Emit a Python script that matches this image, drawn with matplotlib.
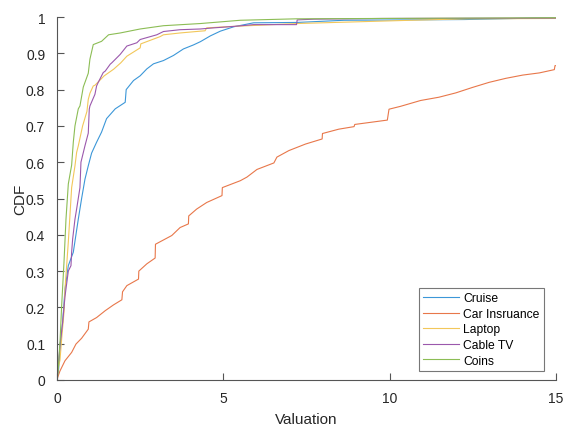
import matplotlib
matplotlib.use("Agg")
import matplotlib.pyplot as plt

plt.rcParams['font.family'] = ['Liberation Sans', 'DejaVu Sans']

labels = ["Cruise", "Car Insruance", "Laptop", "Cable TV", "Coins"]

cruise_x = [0, 0.05, 0.09, 0.17, 0.24, 0.34, 0.49, 0.64, 0.74, 0.84, 0.94, 1.04, 1.19, 1.34, 1.49, 1.75,
            2.0, 2.05, 2.08, 2.3, 2.5, 2.7, 2.9, 3.2, 3.5, 3.8, 4.1, 4.31, 4.61, 4.91, 5.31, 5.91, 7.22,
            8.63, 12.24, 14.34, 15]
cruise_y = [0, 0.03, 0.094, 0.159, 0.25, 0.315, 0.352, 0.443, 0.5, 0.553, 0.59, 0.625, 0.655, 0.683, 0.72,
            0.747, 0.762, 0.765, 0.80, 0.825, 0.838, 0.857, 0.871, 0.88, 0.894, 0.912, 0.923, 0.932, 0.948,
            0.961, 0.973, 0.984, 0.985, 0.991, 0.993, 0.997, 0.997]

car_x = [0, 0.03, 0.09, 0.24, 0.44, 0.57, 0.74, 0.94, 0.96, 1.19, 1.45, 1.70, 1.95, 1.97, 2.1, 2.45, 2.46,
         2.7, 2.95, 2.96, 3.45, 3.70, 3.95, 3.96, 4.2, 4.5, 4.96, 4.97, 5.51, 5.71, 6.01, 6.52, 6.61, 6.97,
         7.47, 7.97, 7.98, 8.47, 8.93, 8.95, 9.93, 9.98, 10.33, 10.93, 11.48, 11.99, 12.49, 12.99, 13.49,
         14.0, 14.5, 14.95, 14.97, 15]
car_y = [0, 0.01, 0.025, 0.053, 0.076, 0.099, 0.115, 0.14, 0.16, 0.172, 0.191, 0.207, 0.221, 0.243, 0.26,
         0.278, 0.30, 0.32, 0.336, 0.374, 0.398, 0.42, 0.43, 0.452, 0.471, 0.489, 0.508, 0.53, 0.549, 0.559,
         0.58, 0.598, 0.614, 0.632, 0.65, 0.664, 0.679, 0.691, 0.698, 0.704, 0.716, 0.746, 0.754, 0.770,
         0.779, 0.791, 0.806, 0.820, 0.831, 0.840, 0.846, 0.855, 0.866, 0.866]

laptop_x = [0, 0.03, 0.09, 0.14, 0.21, 0.24, 0.34, 0.44, 0.54, 0.59, 0.64, 0.77, 0.90, 0.94, 0.99, 1.09,
            1.14, 1.42, 1.70, 1.92, 2.1, 2.5, 2.52, 3.1, 3.2, 3.7, 4.31, 4.45, 4.5, 5.26, 7.22, 10.63,
            12.34, 15]
laptop_y = [0, 0.03, 0.055, 0.113, 0.187, 0.25, 0.38, 0.53, 0.59, 0.627, 0.645, 0.70, 0.74, 0.773, 0.79,
            0.81, 0.812, 0.838, 0.856, 0.874, 0.892, 0.915, 0.926, 0.946, 0.951, 0.956, 0.961, 0.962,
            0.970, 0.974, 0.982, 0.991, 0.995, 0.996]

cable_x = [0, 0.03, 0.09, 0.17, 0.24, 0.34, 0.42, 0.44, 0.47, 0.54, 0.59, 0.69, 0.72, 0.84, 0.94, 0.97,
           0.99, 1.14, 1.19, 1.24, 1.39, 1.45, 1.6, 1.65, 1.9, 2.1, 2.4, 2.5, 3.0, 3.2, 3.7, 4.31, 4.7,
           5.31, 5.91, 7.2, 7.22, 7.72, 9.78, 15]
cable_y = [0, 0.03, 0.094, 0.159, 0.23, 0.30, 0.315, 0.352, 0.388, 0.443, 0.471, 0.53, 0.6, 0.645, 0.68,
           0.746, 0.755, 0.787, 0.81, 0.82, 0.847, 0.851, 0.87, 0.874, 0.897, 0.92, 0.929, 0.938, 0.951,
           0.96, 0.965, 0.967, 0.97, 0.974, 0.979, 0.979, 0.992, 0.994, 0.996, 0.997]

coins_x = [0, 0.03, 0.09, 0.14, 0.21, 0.27, 0.34, 0.44, 0.49, 0.54, 0.64, 0.69, 0.79, 0.94, 0.99, 1.09,
           1.34, 1.55, 1.90, 2.50, 3.20, 4.31, 5.51, 7.2, 15]
coins_y = [0, 0.02, 0.104, 0.205, 0.324, 0.443, 0.54, 0.592, 0.655, 0.70, 0.747, 0.755, 0.807, 0.845,
           0.884, 0.924, 0.933, 0.951, 0.956, 0.967, 0.976, 0.982, 0.991, 0.995, 0.998]

colors = ['#3C97D8', '#E8774A', '#F2C75A', '#9B58AC', '#8CBD55']

x_ticks = [0, 5, 10, 15]
y_ticks = [0, 0.1, 0.2, 0.3, 0.4, 0.5, 0.6, 0.7, 0.8, 0.9, 1]
y_tick_labels = ["0", "0.1", "0.2", "0.3", "0.4", "0.5", "0.6", "0.7", "0.8", "0.9", "1"]

fig = plt.figure(figsize=(5.65, 4.27), dpi=100)
ax = fig.add_axes([57/565, 1 - 381/427, (556 - 57)/565, (381 - 18)/427])

series = [(cruise_x, cruise_y), (car_x, car_y), (laptop_x, laptop_y), (cable_x, cable_y), (coins_x, coins_y)]
for (xs, ys), c, lab in zip(series, colors, labels):
    ax.plot(xs, ys, color=c, lw=0.8, label=lab)

ax.set_xlim(0, 15)
ax.set_ylim(0, 1)
ax.set_xticks(x_ticks)
ax.set_yticks(y_ticks)
ax.set_yticklabels(y_tick_labels)
ax.spines['top'].set_visible(False)
ax.spines['right'].set_visible(False)
for s in ['left', 'bottom']:
    ax.spines[s].set_color('#555555')
    ax.spines[s].set_linewidth(0.8)
ax.tick_params(direction='in', length=5, width=0.8, colors='#555555', labelcolor='#262626',
               labelsize=10)
ax.tick_params(axis='x', pad=8)
ax.tick_params(axis='y', pad=8.5)
ax.set_xlabel("Valuation", fontsize=11, color='#262626', labelpad=5)
ax.set_ylabel("CDF", fontsize=11, color='#262626', labelpad=-1)

leg = ax.legend(loc='lower right', bbox_to_anchor=(0.975, 0.025), fontsize=8.7, frameon=True,
                fancybox=False, handlelength=3.0, handletextpad=0.3, labelspacing=0.3,
                borderpad=0.35, borderaxespad=0)
leg.get_frame().set_edgecolor('#555555')
leg.get_frame().set_linewidth(0.8)

fig.savefig("out.png", dpi=100)
